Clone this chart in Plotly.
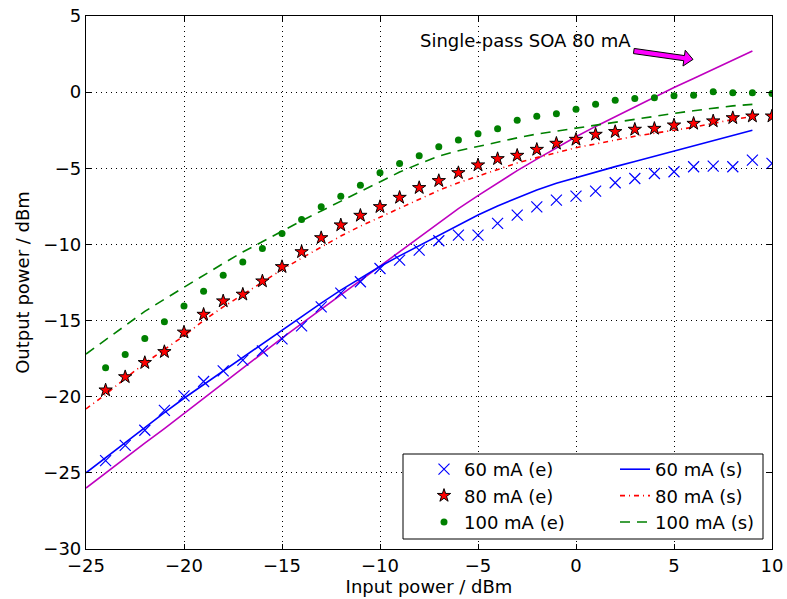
import math
import plotly.graph_objects as go

# ---------------- data ----------------
x_exp = list(range(-24, 11))
p60_exp = [-24.2, -23.2, -22.2, -20.9, -19.95, -19.0, -18.3, -17.6, -17.0, -16.2,
           -15.35, -14.1, -13.2, -12.45, -11.58, -11.03, -10.37, -9.76, -9.39, -9.39,
           -8.62, -8.08, -7.53, -7.09, -6.83, -6.5, -5.95, -5.67, -5.34, -5.23,
           -4.9, -4.86, -4.9, -4.46, -4.68]
p80_exp = [-19.57, -18.7, -17.77, -17.05, -15.77, -14.6, -13.72, -13.28, -12.41, -11.47,
           -10.49, -9.57, -8.73, -8.1, -7.53, -6.92, -6.28, -5.82, -5.3, -4.79,
           -4.38, -4.16, -3.77, -3.37, -3.11, -2.78, -2.6, -2.45, -2.39, -2.17,
           -2.06, -1.9, -1.69, -1.58, -1.58]
p100_exp = [-18.1, -17.22, -16.17, -15.08, -14.05, -13.07, -12.02, -11.16, -10.27, -9.28,
            -8.36, -7.53, -6.83, -6.11, -5.3, -4.68, -4.18, -3.59, -3.15, -2.74,
            -2.41, -1.84, -1.58, -1.42, -1.12, -0.79, -0.53, -0.41, -0.37, -0.24,
            -0.2, 0.02, -0.04, -0.04, -0.09]

x_sim = list(range(-25, 10))
p60_sim = [-25.0, -24.0, -23.0, -22.0, -21.05, -20.1, -19.2, -18.3, -17.4, -16.5,
           -15.6, -14.75, -13.85, -13.0, -12.2, -11.45, -10.75, -10.08, -9.4, -8.72,
           -8.07, -7.47, -6.92, -6.42, -5.98, -5.6, -5.24, -4.89, -4.55, -4.2,
           -3.86, -3.52, -3.18, -2.85, -2.5]
p80_sim = [-20.8, -19.85, -18.8, -17.8, -16.9, -16.0, -15.0, -14.1, -13.3, -12.45,
           -11.65, -10.9, -10.15, -9.45, -8.8, -8.2, -7.6, -7.05, -6.45, -5.95,
           -5.5, -5.05, -4.65, -4.3, -3.95, -3.65, -3.4, -3.15, -2.9, -2.7,
           -2.5, -2.3, -2.05, -1.8, -1.6]
p100_sim = [-17.2, -16.25, -15.3, -14.4, -13.6, -12.8, -12.0, -11.25, -10.5, -9.8,
            -9.1, -8.45, -7.8, -7.15, -6.5, -5.85, -5.25, -4.7, -4.2, -3.85,
            -3.55, -3.28, -3.0, -2.75, -2.55, -2.4, -2.2, -2.0, -1.8, -1.6,
            -1.4, -1.22, -1.05, -0.9, -0.8]
p_single = [-26.0, -25.0, -24.0, -23.05, -22.1, -21.1, -20.1, -19.1, -18.1, -17.1,
            -16.15, -15.2, -14.25, -13.3, -12.35, -11.4, -10.45, -9.5, -8.55, -7.65,
            -6.8, -5.95, -5.15, -4.4, -3.65, -2.93, -2.25, -1.6, -0.95, -0.3,
            0.3, 0.9, 1.5, 2.1, 2.7]

x_ticks = [-25, -20, -15, -10, -5, 0, 5, 10]
y_ticks = [-30, -25, -20, -15, -10, -5, 0, 5]

annot_text = "Single-pass SOA 80 mA"
arrow_tail = (2.95, 2.7)
arrow_tip = (5.97, 2.15)

# ---------------- layout geometry ----------------
W, H = 787, 599
ML, MR, MT, MB = 86, 15, 16, 50
XR = (-25, 10)
YR = (-30, 5)
PW = W - ML - MR
PH = H - MT - MB
FONT = "DejaVu Sans"

fig = go.Figure()

fig.add_trace(go.Scatter(x=x_sim, y=p_single, mode="lines",
                         line=dict(color="#bf00bf", width=1.6),
                         showlegend=False, hoverinfo="skip"))

fig.add_trace(go.Scatter(x=x_sim, y=p60_sim, mode="lines", name="60 mA (s)",
                         line=dict(color="#0000ff", width=1.6), legend="legend2"))
fig.add_trace(go.Scatter(x=x_sim, y=p80_sim, mode="lines", name="80 mA (s)",
                         line=dict(color="#ff0000", width=1.6, dash="5px,4px,1px,4px"),
                         legend="legend2"))
fig.add_trace(go.Scatter(x=x_sim, y=p100_sim, mode="lines", name="100 mA (s)",
                         line=dict(color="#008000", width=1.6, dash="10px,7px"),
                         legend="legend2"))

fig.add_trace(go.Scatter(x=x_exp, y=p60_exp, mode="markers", name="60 mA (e)",
                         marker=dict(symbol="x-thin-open", size=11, color="#0000ff",
                                     line=dict(color="#0000ff", width=1.2)),
                         legend="legend"))
fig.add_trace(go.Scatter(x=x_exp, y=p80_exp, mode="markers", name="80 mA (e)",
                         marker=dict(symbol="star", size=10, color="#ff0000",
                                     line=dict(color="black", width=1)),
                         legend="legend"))
fig.add_trace(go.Scatter(x=x_exp, y=p100_exp, mode="markers", name="100 mA (e)",
                         marker=dict(symbol="circle", size=7, color="#008000",
                                     line=dict(width=0)),
                         legend="legend"))

# ---------------- arrow (fancy) ----------------
sx = PW / (XR[1] - XR[0])
sy = PH / (YR[1] - YR[0])


def to_px(x, y):
    return ((x - XR[0]) * sx, (YR[1] - y) * sy)


def to_data(px, py):
    return (px / sx + XR[0], YR[1] - py / sy)


tx, ty = to_px(*arrow_tail)
hx, hy = to_px(*arrow_tip)
L = math.hypot(hx - tx, hy - ty)
ux, uy = (hx - tx) / L, (hy - ty) / L
nx, ny = -uy, ux
bw, hw, hl = 2.6, 8.0, 9.0
bx, by = hx - ux * hl, hy - uy * hl
pts_px = [
    (tx + nx * bw, ty + ny * bw),
    (bx + nx * bw, by + ny * bw),
    (bx + nx * hw, by + ny * hw),
    (hx, hy),
    (bx - nx * hw, by - ny * hw),
    (bx - nx * bw, by - ny * bw),
    (tx - nx * bw, ty - ny * bw),
]
pts = [to_data(px, py) for px, py in pts_px]
path = "M " + " L ".join(f"{x:.4f},{y:.4f}" for x, y in pts) + " Z"
fig.add_shape(type="path", path=path, xref="x", yref="y",
              fillcolor="#ff00ff", line=dict(color="black", width=1), layer="above")

fig.add_annotation(x=arrow_tail[0] - 0.05, y=3.4, xref="x", yref="y",
                   text=annot_text, showarrow=False, xanchor="right", yanchor="middle",
                   font=dict(family=FONT, size=18, color="black"))

# ---------------- legend frame ----------------
lx0, lx1 = (403 - ML) / PW, (763 - ML) / PW
ly0, ly1 = (H - MB - 539) / PH, (H - MB - 454) / PH
fig.add_shape(type="rect", xref="paper", yref="paper", x0=lx0, x1=lx1, y0=ly0, y1=ly1,
              fillcolor="white", line=dict(color="black", width=1), layer="above")

legend_top = (H - MB - 451) / PH

axis_common = dict(showgrid=True, gridcolor="black", gridwidth=1, griddash="1px,4px",
                   zeroline=False, showline=True, linecolor="black", linewidth=1.2,
                   mirror="allticks", ticks="inside", ticklen=5, tickwidth=1,
                   tickcolor="black", automargin=False,
                   tickfont=dict(family=FONT, size=18, color="black"))

fig.update_layout(
    width=W, height=H,
    margin=dict(l=ML, r=MR, t=MT, b=MB, pad=0, autoexpand=False),
    paper_bgcolor="white", plot_bgcolor="white",
    font=dict(family=FONT, size=18, color="black"),
    xaxis=dict(range=list(XR), tickvals=x_ticks,
               title=dict(text="Input power / dBm", font=dict(family=FONT, size=18),
                          standoff=1),
               **axis_common),
    yaxis=dict(range=list(YR), tickvals=y_ticks,
               title=dict(text="Output power / dBm", font=dict(family=FONT, size=18),
                          standoff=8),
               **axis_common),
    legend=dict(x=(424 - ML) / PW, y=legend_top, xanchor="left", yanchor="top",
                bgcolor="rgba(0,0,0,0)", borderwidth=0,
                font=dict(family=FONT, size=18, color="black"), traceorder="normal"),
    legend2=dict(x=(615 - ML) / PW, y=legend_top, xanchor="left", yanchor="top",
                 bgcolor="rgba(0,0,0,0)", borderwidth=0,
                 font=dict(family=FONT, size=18, color="black"), traceorder="normal"),
    showlegend=True,
)

fig.write_html("out.html", config={"displayModeBar": False},
               post_script="document.body.style.margin='0';document.body.style.overflow='hidden';")
